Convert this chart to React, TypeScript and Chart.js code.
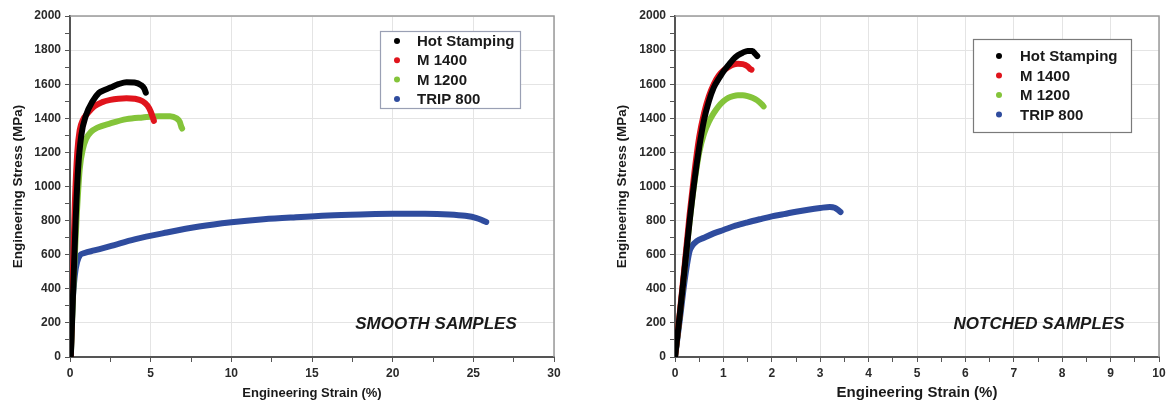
import React, { useEffect, useRef } from "react";
import { Chart, registerables } from "chart.js";

Chart.register(...registerables);

// ---------- data ----------
const seriesNames = ["Hot Stamping", "M 1400", "M 1200", "TRIP 800"];
const seriesColors = ["#000000", "#e0141c", "#84c43a", "#2f4c9e"];

// Smooth samples (strain %, stress MPa)
const smoothHotStrain = [0.05, 0.2, 0.35, 0.5, 0.7, 1.0, 1.4, 1.8, 2.0, 2.5, 3.0, 3.5, 4.0, 4.4, 4.6, 4.7];
const smoothHotStress = [0, 400, 800, 1100, 1300, 1420, 1500, 1550, 1560, 1580, 1600, 1612, 1610, 1595, 1575, 1550];
const smoothM1400Strain = [0.05, 0.15, 0.3, 0.45, 0.6, 0.8, 1.1, 1.5, 2.0, 2.5, 3.0, 3.5, 4.0, 4.5, 4.8, 5.0, 5.15, 5.2];
const smoothM1400Stress = [0, 400, 900, 1200, 1330, 1390, 1430, 1470, 1495, 1508, 1515, 1518, 1515, 1500, 1475, 1440, 1400, 1385];
const smoothM1200Strain = [0.05, 0.2, 0.4, 0.6, 0.8, 1.0, 1.3, 1.7, 2.5, 3.5, 4.5, 5.5, 6.2, 6.6, 6.8, 6.9, 6.95];
const smoothM1200Stress = [0, 400, 800, 1100, 1220, 1280, 1320, 1345, 1370, 1395, 1405, 1412, 1412, 1400, 1380, 1350, 1340];
const smoothTripStrain = [0.05, 0.15, 0.3, 0.45, 0.6, 0.9, 1.5, 2.5, 4, 6, 8, 10, 12, 14, 16, 18, 20, 22, 23.5, 24.5, 25.2, 25.6, 25.8];
const smoothTripStress = [0, 300, 480, 560, 595, 610, 625, 650, 690, 730, 765, 790, 808, 820, 830, 836, 840, 840, 836, 828, 815, 800, 792];

// Notched samples (strain %, stress MPa)
const notchHotStrain = [0, 0.1, 0.2, 0.3, 0.4, 0.5, 0.6, 0.7, 0.8, 0.9, 1.0, 1.1, 1.2, 1.3, 1.4, 1.5, 1.6, 1.65, 1.7];
const notchHotStress = [0, 250, 520, 790, 1030, 1230, 1390, 1500, 1580, 1630, 1675, 1710, 1745, 1770, 1785, 1795, 1795, 1780, 1765];
const notchM1400Strain = [0, 0.1, 0.2, 0.3, 0.4, 0.5, 0.6, 0.7, 0.8, 0.9, 1.0, 1.1, 1.2, 1.3, 1.4, 1.5, 1.55, 1.58];
const notchM1400Stress = [0, 260, 540, 830, 1080, 1290, 1430, 1530, 1600, 1650, 1680, 1700, 1715, 1720, 1718, 1705, 1690, 1685];
const notchM1200Strain = [0, 0.1, 0.2, 0.3, 0.4, 0.5, 0.6, 0.7, 0.8, 0.9, 1.0, 1.1, 1.2, 1.3, 1.4, 1.5, 1.6, 1.7, 1.8, 1.83];
const notchM1200Stress = [0, 250, 520, 790, 1020, 1200, 1310, 1380, 1430, 1470, 1500, 1520, 1530, 1535, 1535, 1530, 1520, 1505, 1480, 1470];
const notchTripStrain = [0, 0.1, 0.2, 0.3, 0.35, 0.45, 0.6, 0.8, 1.0, 1.25, 1.5, 1.75, 2.0, 2.25, 2.5, 2.75, 3.0, 3.2, 3.3, 3.38, 3.42];
const notchTripStress = [0, 220, 450, 620, 650, 680, 700, 725, 745, 770, 790, 808, 825, 838, 852, 864, 874, 880, 875, 860, 850];

const yTicksMajor = 200;
const yMin = 0;
const yMax = 2000;
const xTitle = "Engineering Strain (%)";
const yTitle = "Engineering Stress (MPa)";
const smoothNote = "SMOOTH SAMPLES";
const notchNote = "NOTCHED SAMPLES";

const FONT = 'Arial, "Liberation Sans", Helvetica, sans-serif';

type Pt = { x: number; y: number };
const zip = (xs: number[], ys: number[]): Pt[] => xs.map((x, i) => ({ x, y: ys[i] }));

// ---------- plugins ----------
const framePlugin = {
  id: "frameBox",
  beforeDatasetsDraw(chart: any) {
    const { ctx, chartArea } = chart;
    ctx.save();
    ctx.strokeStyle = "#9a9a9a";
    ctx.lineWidth = 1.5;
    ctx.beginPath();
    ctx.moveTo(chartArea.left, chartArea.top);
    ctx.lineTo(chartArea.right, chartArea.top);
    ctx.lineTo(chartArea.right, chartArea.bottom);
    ctx.stroke();
    ctx.restore();
  },
};

const boxLegendPlugin = {
  id: "boxLegend",
  afterDraw(chart: any, _args: any, opts: any) {
    const { ctx } = chart;
    ctx.save();
    ctx.fillStyle = "#ffffff";
    ctx.fillRect(opts.x, opts.y, opts.w, opts.h);
    ctx.strokeStyle = opts.borderColor;
    ctx.lineWidth = 1.2;
    ctx.strokeRect(opts.x + 0.5, opts.y + 0.5, opts.w, opts.h);
    ctx.font = `bold ${opts.fontSize}px ${FONT}`;
    ctx.textBaseline = "middle";
    ctx.textAlign = "left";
    chart.data.datasets.forEach((ds: any, i: number) => {
      const cy = opts.firstRow + i * opts.rowGap;
      ctx.fillStyle = ds.borderColor;
      ctx.beginPath();
      ctx.arc(opts.markerX, cy, 3, 0, Math.PI * 2);
      ctx.fill();
      ctx.fillStyle = "#1a1a1a";
      ctx.fillText(ds.label, opts.textX, cy + 1);
    });
    ctx.restore();
  },
};

const notePlugin = {
  id: "noteText",
  afterDatasetsDraw(chart: any, _args: any, opts: any) {
    const { ctx } = chart;
    ctx.save();
    ctx.font = `italic bold ${opts.fontSize}px ${FONT}`;
    ctx.fillStyle = "#1a1a1a";
    ctx.textAlign = "center";
    ctx.textBaseline = "middle";
    ctx.fillText(opts.text, opts.x, opts.y);
    ctx.restore();
  },
};

// ---------- panel ----------
type PanelProps = {
  series: Pt[][];
  xMax: number;
  xMinor: number;
  xMajor: number;
  rightPad: number;
  yAxisWidth: number;
  yTitlePadTop: number;
  xTitleSize: number;
  xTitlePadBottom: number;
  lineWidth: number;
  legend: any;
  note: any;
  width: number;
  left: number;
};

function Panel(p: PanelProps) {
  const ref = useRef<HTMLCanvasElement | null>(null);
  useEffect(() => {
    if (!ref.current) return;
    const datasets = p.series.map((data, i) => ({
      label: seriesNames[i],
      data,
      borderColor: seriesColors[i],
      backgroundColor: seriesColors[i],
      borderWidth: p.lineWidth,
      pointRadius: 0,
      showLine: true,
      cubicInterpolationMode: "monotone" as const,
      borderCapStyle: "round" as const,
      borderJoinStyle: "round" as const,
    }));
    const tickFont = { family: FONT, size: 12, weight: "bold" as const };
    const chart = new Chart(ref.current, {
      type: "scatter",
      data: { datasets },
      plugins: [framePlugin, boxLegendPlugin, notePlugin],
      options: {
        animation: false,
        responsive: false,
        maintainAspectRatio: false,
        layout: { padding: { left: 0, top: 16, right: p.rightPad, bottom: 0 } },
        plugins: {
          legend: { display: false },
          tooltip: { enabled: false },
          boxLegend: p.legend,
          noteText: p.note,
        } as any,
        scales: {
          x: {
            type: "linear",
            min: 0,
            max: p.xMax,
            afterFit: (s: any) => {
              s.height = 52;
            },
            ticks: {
              stepSize: p.xMinor,
              autoSkip: false,
              maxRotation: 0,
              padding: 4,
              color: "#2a2a2a",
              font: tickFont,
              callback: (v: any) => {
                const n = Number(v);
                return Math.abs(n / p.xMajor - Math.round(n / p.xMajor)) < 1e-6 ? String(n) : "";
              },
            },
            grid: {
              color: (c: any) => {
                const n = c.tick ? c.tick.value : 0;
                return Math.abs(n / p.xMajor - Math.round(n / p.xMajor)) < 1e-6 ? "#e4e4e4" : "rgba(0,0,0,0)";
              },
              tickColor: "#555555",
              tickLength: 5,
              lineWidth: 1,
            },
            border: { color: "#555555", width: 2 },
            title: {
              display: true,
              text: xTitle,
              color: "#1a1a1a",
              font: { family: FONT, size: p.xTitleSize, weight: "bold" },
              padding: { top: 0, bottom: p.xTitlePadBottom },
            },
          },
          y: {
            type: "linear",
            min: yMin,
            max: yMax,
            afterFit: (s: any) => {
              s.width = p.yAxisWidth;
            },
            ticks: {
              stepSize: 100,
              autoSkip: false,
              padding: 4,
              color: "#2a2a2a",
              font: tickFont,
              callback: (v: any) => (Number(v) % yTicksMajor === 0 ? String(v) : ""),
            },
            grid: {
              color: (c: any) => {
                const n = c.tick ? c.tick.value : 0;
                return n % yTicksMajor === 0 ? "#e4e4e4" : "rgba(0,0,0,0)";
              },
              tickColor: "#555555",
              tickLength: 5,
              lineWidth: 1,
            },
            border: { color: "#555555", width: 2 },
            title: {
              display: true,
              text: yTitle,
              color: "#1a1a1a",
              font: { family: FONT, size: 13.5, weight: "bold" },
              padding: { top: p.yTitlePadTop, bottom: 0 },
            },
          },
        },
      },
    } as any);
    return () => chart.destroy();
  }, []);
  return (
    <canvas
      ref={ref}
      width={p.width}
      height={409}
      style={{ position: "absolute", left: p.left, top: 0, width: p.width, height: 409 }}
    />
  );
}

export default function App() {
  const smoothSeries = [
    zip(smoothHotStrain, smoothHotStress),
    zip(smoothM1400Strain, smoothM1400Stress),
    zip(smoothM1200Strain, smoothM1200Stress),
    zip(smoothTripStrain, smoothTripStress),
  ];
  const notchSeries = [
    zip(notchHotStrain, notchHotStress),
    zip(notchM1400Strain, notchM1400Stress),
    zip(notchM1200Strain, notchM1200Stress),
    zip(notchTripStrain, notchTripStress),
  ];
  return (
    <div style={{ position: "absolute", left: 0, top: 0, width: 1172, height: 409, background: "#ffffff" }}>
      <Panel
        series={smoothSeries}
        xMax={30}
        xMinor={2.5}
        xMajor={5}
        rightPad={32}
        yAxisWidth={70}
        yTitlePadTop={10}
        xTitleSize={13}
        xTitlePadBottom={8}
        lineWidth={6}
        width={586}
        left={0}
        legend={{ x: 380, y: 31, w: 140, h: 77, markerX: 397, textX: 417, firstRow: 41, rowGap: 19.3, fontSize: 15, borderColor: "#9aa0b4" }}
        note={{ text: smoothNote, x: 436, y: 324, fontSize: 17 }}
      />
      <Panel
        series={notchSeries}
        xMax={10}
        xMinor={0.5}
        xMajor={1}
        rightPad={13}
        yAxisWidth={89}
        yTitlePadTop={28}
        xTitleSize={15}
        xTitlePadBottom={7}
        lineWidth={6}
        width={586}
        left={586}
        legend={{ x: 387, y: 39, w: 158, h: 93, markerX: 413, textX: 434, firstRow: 56, rowGap: 19.5, fontSize: 15, borderColor: "#7a7a7a" }}
        note={{ text: notchNote, x: 453, y: 324, fontSize: 17 }}
      />
    </div>
  );
}
